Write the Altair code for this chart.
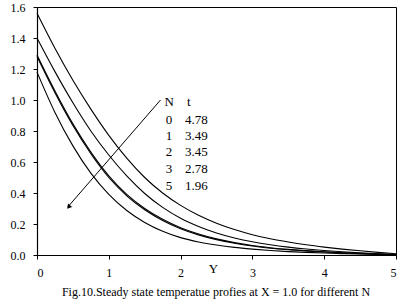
import altair as alt
import pandas as pd

# Y positions at which the profiles were read
Y = [0.0, 0.25, 0.5, 0.75, 1.0, 1.25, 1.5, 1.75, 2.0, 2.25, 2.5,
     2.75, 3.0, 3.25, 3.5, 3.75, 4.0, 4.25, 4.5, 4.75, 5.0]

# temperature profiles
T_N0 = [1.56, 1.334, 1.127, 0.941, 0.772, 0.625, 0.50, 0.40, 0.32, 0.256, 0.205,
        0.164, 0.131, 0.105, 0.084, 0.066, 0.051, 0.038, 0.027, 0.017, 0.008]
T_N1 = [1.40, 1.183, 0.982, 0.80, 0.645, 0.51, 0.397, 0.307, 0.237, 0.184, 0.142,
        0.110, 0.085, 0.066, 0.051, 0.039, 0.029, 0.021, 0.014, 0.008, 0.003]
T_N2 = [1.29, 1.058, 0.846, 0.664, 0.511, 0.391, 0.300, 0.230, 0.176, 0.135, 0.104,
        0.080, 0.061, 0.047, 0.036, 0.028, 0.021, 0.015, 0.010, 0.006, 0.002]
T_N3 = [1.28, 1.047, 0.835, 0.653, 0.500, 0.382, 0.292, 0.223, 0.170, 0.130, 0.099,
        0.076, 0.058, 0.044, 0.034, 0.026, 0.019, 0.014, 0.009, 0.005, 0.002]
T_N5 = [1.18, 0.920, 0.704, 0.528, 0.391, 0.287, 0.210, 0.153, 0.112, 0.084, 0.064,
        0.049, 0.038, 0.029, 0.022, 0.017, 0.013, 0.009, 0.006, 0.004, 0.001]

N_LABELS = ["0", "1", "2", "3", "5"]
T_LABELS = ["4.78", "3.49", "3.45", "2.78", "1.96"]

X_TICKS = [0, 1, 2, 3, 4, 5]
Y_TICKS = [0.0, 0.2, 0.4, 0.6, 0.8, 1.0, 1.2, 1.4, 1.6]

CAPTION = "Fig.10.Steady state temperatue profies at X = 1.0 for different N"

FONT = "Liberation Serif"

series = {"0": T_N0, "1": T_N1, "2": T_N2, "3": T_N3, "5": T_N5}
rows = []
for n, vals in series.items():
    for y, t in zip(Y, vals):
        rows.append({"Y": y, "T": t, "N": n})
df = pd.DataFrame(rows)

x_scale = alt.Scale(domain=[0, 5], nice=False, zero=False)
y_scale = alt.Scale(domain=[0, 1.6], nice=False)

axis_common = dict(title=None, grid=False, tickSize=4, labelOverlap=False,
                   labelFont=FONT, labelFontSize=12, labelColor="black",
                   domainColor="black", tickColor="black", domainWidth=1.2)
x_axis = alt.Axis(values=X_TICKS, format="d", labelPadding=8, **axis_common)
y_axis = alt.Axis(values=Y_TICKS, format=".1f", labelPadding=8, **axis_common)


def X(field):
    return alt.X(field, scale=x_scale, axis=x_axis)


def Yc(field):
    return alt.Y(field, scale=y_scale, axis=y_axis)


lines = alt.Chart(df).mark_line(color="black", strokeWidth=1.1, interpolate="monotone").encode(
    x=X("Y:Q"), y=Yc("T:Q"), detail="N:N")

# arrow
arrow_df = pd.DataFrame({"ax": [1.72, 0.43], "ay": [1.0, 0.31], "o": [0, 1]})
arrow = alt.Chart(arrow_df).mark_line(color="black", strokeWidth=1).encode(
    x=X("ax:Q"), y=Yc("ay:Q"), order="o:Q")
head_df = pd.DataFrame({"ax": [0.44], "ay": [0.31]})
head = alt.Chart(head_df).mark_point(shape="triangle-up", filled=True, color="black",
                                     size=28, angle=220, opacity=1).encode(
    x=X("ax:Q"), y=Yc("ay:Q"))

# legend table
row_y = [0.874, 0.77, 0.663, 0.555, 0.447]
leg_n = pd.DataFrame({"x": [1.84] * 6, "y": [0.986] + row_y, "txt": ["N"] + N_LABELS})
leg_t = pd.DataFrame({"x": [2.09] + [2.06] * 5, "y": [0.986] + row_y, "txt": ["t"] + T_LABELS})
txt_n = alt.Chart(leg_n).mark_text(font=FONT, fontSize=13, align="center", baseline="middle",
                                   color="black").encode(
    x=X("x:Q"), y=Yc("y:Q"), text="txt:N")
txt_t = alt.Chart(leg_t).mark_text(font=FONT, fontSize=13, align="left", baseline="middle",
                                   color="black").encode(
    x=X("x:Q"), y=Yc("y:Q"), text="txt:N")

# axis title "Y" and caption
ytitle = alt.Chart(pd.DataFrame({"t": ["Y"]})).mark_text(
    font=FONT, fontSize=13, align="center", baseline="middle", color="black").encode(
    x=alt.value(176.5), y=alt.value(261.5), text="t:N")
caption = alt.Chart(pd.DataFrame({"t": [CAPTION]})).mark_text(
    font=FONT, fontSize=12, align="center", baseline="middle", color="black").encode(
    x=alt.value(179), y=alt.value(285), text="t:N")

chart = alt.layer(arrow, head, txt_n, txt_t, ytitle, caption, lines).properties(
    width=359, height=248,
    background="white",
    autosize=alt.AutoSizeParams(type="none"),
    padding={"left": 37, "top": 7, "right": 1, "bottom": 47},
).configure(font=FONT).configure_view(stroke="black", strokeWidth=1).configure_axis(
    labelFont=FONT, labelFontSize=12, labelColor="black",
    domainColor="black", tickColor="black", grid=False, labelOverlap=False,
).configure_text(font=FONT)

chart.save("out.html", embed_options={"renderer": "svg", "actions": False})
